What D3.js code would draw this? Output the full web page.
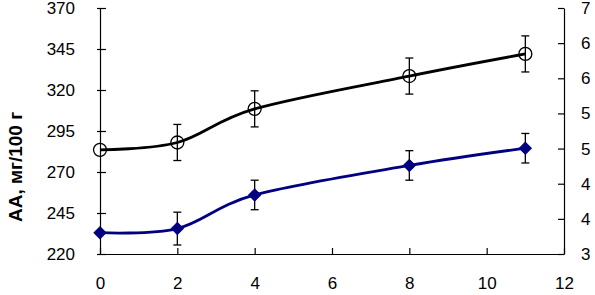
<!DOCTYPE html>
<html>
<head>
<meta charset="utf-8">
<script src="https://cdn.jsdelivr.net/npm/d3@7"></script>
<style>
  body { margin: 0; background: #fff; }
  svg text { font-family: "Liberation Sans", Arial, sans-serif; }
</style>
</head>
<body>
<div id="chart"></div>
<script>
// Chart data.
const days = [0, 2, 4, 8, 11];
const seriesTop = [283.5, 288, 308.5, 328.5, 342];
const errTop = [0, 11, 11, 11, 11];
const seriesBottom = [233, 235.5, 256, 274, 284.5];
const errBottom = [0, 10, 9, 9, 9];
const leftTicks = [220, 245, 270, 295, 320, 345, 370];
const rightTicks = [3, 3 + 4 / 7, 3 + 8 / 7, 3 + 12 / 7, 3 + 16 / 7, 3 + 20 / 7, 3 + 24 / 7, 7];
const xTicks = [0, 2, 4, 6, 8, 10, 12];

const W = 595, H = 295;
const margin = {top: 8, right: 31, bottom: 41, left: 100};
const width = W - margin.left - margin.right;
const height = H - margin.top - margin.bottom;

const svg = d3.select('#chart')
    .append('svg')
        .attr('width', W)
        .attr('height', H);
const g = svg.append('g')
    .attr('transform', `translate(${margin.left},${margin.top})`);

// Scales.
const x = d3.scaleLinear().domain([0, 12]).range([0, width]);
const y = d3.scaleLinear().domain([220, 370]).range([height, 0]);
const y2 = d3.scaleLinear().domain([3, 7]).range([height, 0]);

// Axes, ticks pointing inside like the original.
const styleAxis = sel => {
    sel.select('.domain').attr('stroke', '#000').attr('stroke-width', 1.2);
    sel.selectAll('.tick line').attr('stroke', '#000').attr('stroke-width', 1.2);
    sel.selectAll('.tick text').attr('fill', '#000').style('font-size', '17px');
};

g.append('g')
    .attr('transform', `translate(0,${height})`)
    .call(d3.axisBottom(x).tickValues(xTicks).tickSize(-6).tickSizeOuter(0).tickPadding(23))
    .call(styleAxis);

const yAxis = g.append('g')
    .call(d3.axisLeft(y).tickValues(leftTicks).tickSize(0).tickSizeOuter(0).tickPadding(25))
    .call(styleAxis);
yAxis.selectAll('.tick line').attr('x1', -3).attr('x2', 6);

g.append('g')
    .attr('transform', `translate(${width},0)`)
    .call(d3.axisRight(y2).tickValues(rightTicks).tickSize(-6).tickSizeOuter(0).tickPadding(17)
        .tickFormat(d => Math.round(d)))
    .call(styleAxis);

// Axis title.
svg.append('text')
    .attr('transform', `translate(22,167) rotate(-90)`)
    .attr('text-anchor', 'middle')
    .style('font-size', '19px')
    .style('font-weight', 'bold')
    .text('АА, мг/100 г');

const line = d3.line()
    .x((d, i) => x(days[i]))
    .y(d => y(d))
    .curve(d3.curveCardinal.tension(0));

function drawErrors(values, errs, color) {
    const eg = g.append('g').attr('stroke', color).attr('stroke-width', 1.3);
    values.forEach((v, i) => {
        if (!errs[i]) return;
        const cx = x(days[i]);
        eg.append('line').attr('x1', cx).attr('x2', cx).attr('y1', y(v - errs[i])).attr('y2', y(v + errs[i]));
        eg.append('line').attr('x1', cx - 4).attr('x2', cx + 4).attr('y1', y(v - errs[i])).attr('y2', y(v - errs[i]));
        eg.append('line').attr('x1', cx - 4).attr('x2', cx + 4).attr('y1', y(v + errs[i])).attr('y2', y(v + errs[i]));
    });
}

drawErrors(seriesTop, errTop, '#000');
drawErrors(seriesBottom, errBottom, '#000');

// Top series: black line with open circles.
g.append('path')
    .datum(seriesTop)
    .attr('d', line)
    .attr('fill', 'none')
    .attr('stroke', '#000')
    .attr('stroke-width', 2.8);
g.selectAll('.circ')
    .data(seriesTop)
    .enter()
    .append('circle')
        .attr('cx', (d, i) => x(days[i]))
        .attr('cy', d => y(d))
        .attr('r', 6.5)
        .attr('fill', 'none')
        .attr('stroke', '#000')
        .attr('stroke-width', 1.3);

// Bottom series: navy line with square diamonds.
g.append('path')
    .datum(seriesBottom)
    .attr('d', line)
    .attr('fill', 'none')
    .attr('stroke', '#000080')
    .attr('stroke-width', 2.8);
g.selectAll('.diam')
    .data(seriesBottom)
    .enter()
    .append('path')
        .attr('d', d3.symbol(d3.symbolSquare, 72))
        .attr('transform', (d, i) => `translate(${x(days[i])},${y(d)}) rotate(45)`)
        .attr('fill', '#000080')
        .attr('stroke', '#000080');
</script>
</body>
</html>
